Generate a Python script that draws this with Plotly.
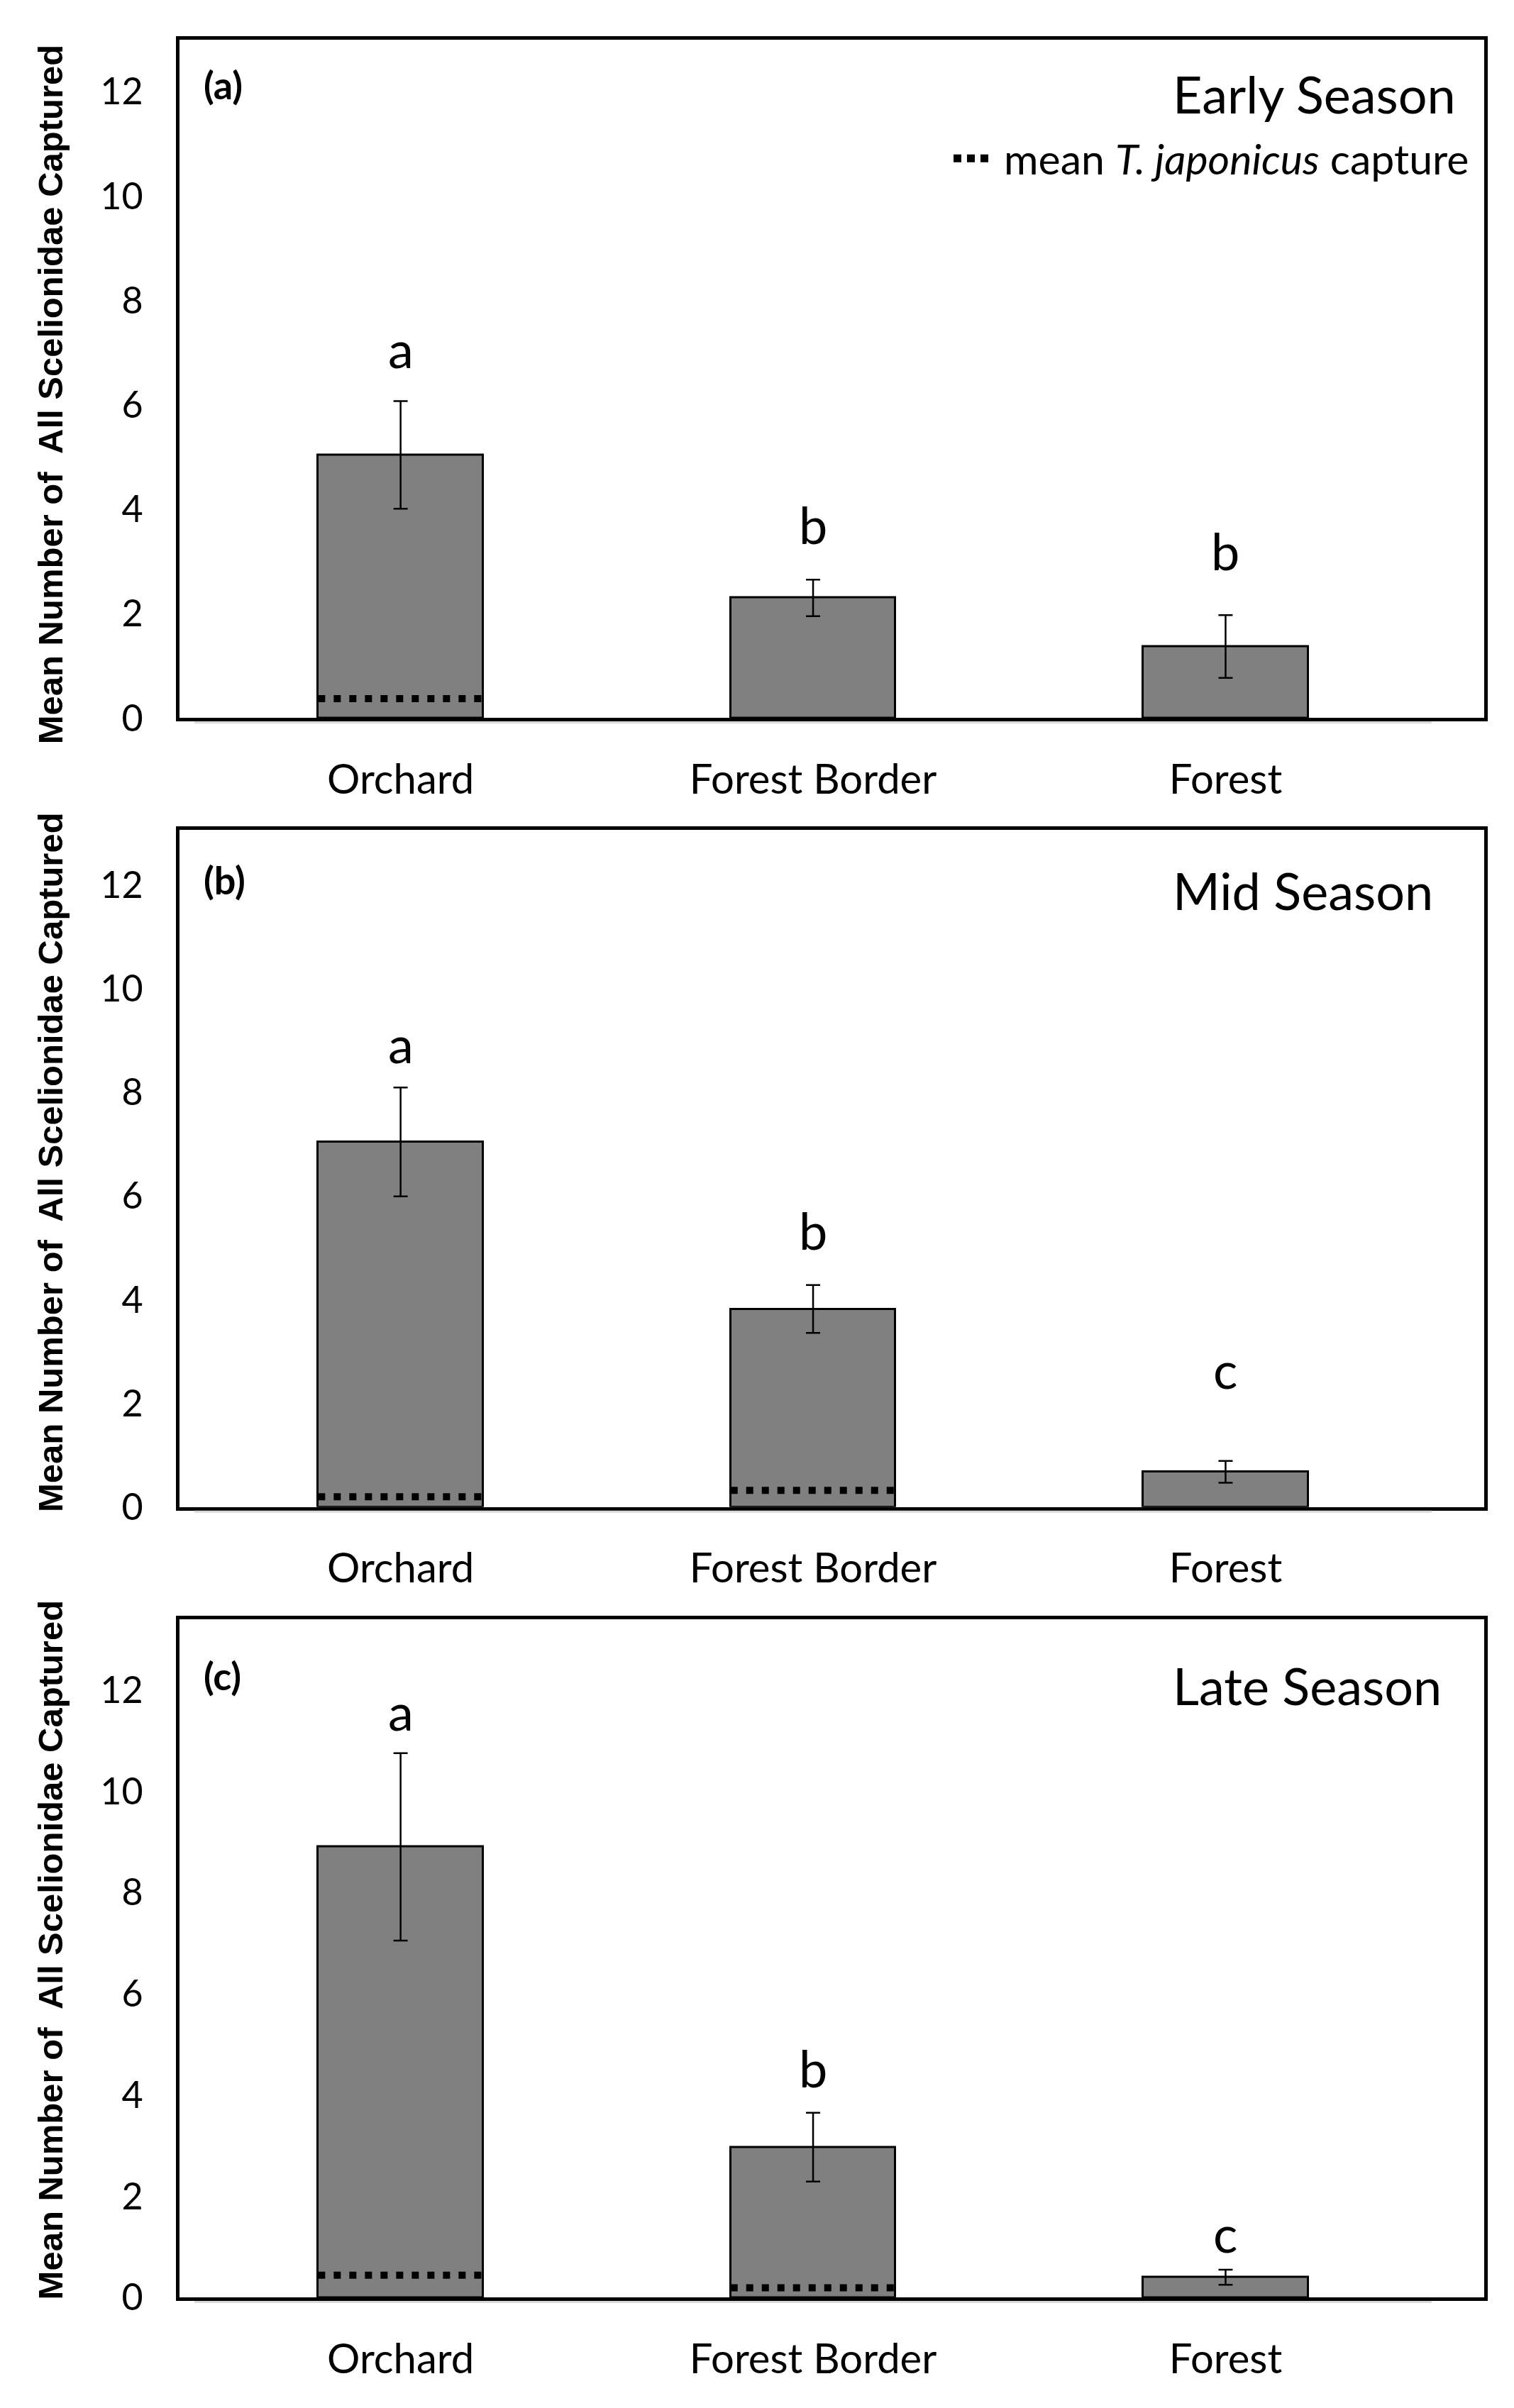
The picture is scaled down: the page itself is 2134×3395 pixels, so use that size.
import plotly.graph_objects as go

# ---------------- data ----------------
categories = ["Orchard", "Forest Border", "Forest"]
panel_tags = ["(a)", "(b)", "(c)"]
seasons = ["Early Season", "Mid Season", "Late Season"]

early_mean = [5.04, 2.30, 1.37]
early_se = [1.03, 0.35, 0.60]
early_tj = [0.37, None, None]
early_letters = ["a", "b", "b"]

mid_mean = [7.04, 3.82, 0.68]
mid_se = [1.05, 0.46, 0.21]
mid_tj = [0.20, 0.32, None]
mid_letters = ["a", "b", "c"]

late_mean = [8.90, 2.97, 0.40]
late_se = [1.85, 0.68, 0.15]
late_tj = [0.44, 0.19, None]
late_letters = ["a", "b", "c"]

y_ticks = [0, 2, 4, 6, 8, 10, 12]
y_title = "Mean Number of  All Scelionidae Captured"
legend_text = "mean <i>T. japonicus</i> capture"

# ---------------- layout settings ----------------
W, H = 2134, 3395
LEFT, RIGHT = 245, 2084
boxes = [(48, 1013), (1172, 2135), (2295, 3259)]      # plot-area top, bottom (px)
y_max = [13.0, 13.06, 13.39]
x_range = [-0.536, 2.627]
bar_w = 0.4
letter_shift = [[75, 78, 91], [62, 78, 130], [60, 64, 52]]   # px above error bar
title_center = [553, 1645, 2765]
tag_y = [112, 1243, 2375]
season_y = [125, 1258, 2388]
legend_y = 217

BODY = "Lato, 'Open Sans', sans-serif"
BOLD_ARIAL = "'Liberation Sans', Arial, sans-serif"

series = [
    (early_mean, early_se, early_tj, early_letters),
    (mid_mean, mid_se, mid_tj, mid_letters),
    (late_mean, late_se, late_tj, late_letters),
]

fig = go.Figure()
annotations = []
shapes = []
xs = list(range(len(categories)))

for p, (mean, se, tj, letters) in enumerate(series):
    sfx = "" if p == 0 else str(p + 1)
    xa, ya = "x" + sfx, "y" + sfx
    fig.add_trace(go.Bar(
        x=xs, y=mean, width=bar_w,
        marker=dict(color="#808080", line=dict(color="black", width=3)),
        error_y=dict(type="data", array=se, color="black", thickness=2.5, width=10),
        xaxis=xa, yaxis=ya, showlegend=False, hoverinfo="skip",
    ))
    lx, ly = [], []
    for i, v in enumerate(tj):
        if v is None:
            continue
        lx += [i - bar_w / 2, i + bar_w / 2, None]
        ly += [v, v, None]
    if lx:
        fig.add_trace(go.Scatter(
            x=lx, y=ly, mode="lines",
            line=dict(color="black", width=10, dash="10px,12px"),
            xaxis=xa, yaxis=ya, showlegend=False, hoverinfo="skip",
        ))

    top, bot = boxes[p]
    dom = [1 - bot / H, 1 - top / H]
    fig.layout["xaxis" + sfx] = dict(
        domain=[LEFT / W, RIGHT / W], range=x_range, anchor=ya,
        tickvals=xs, ticktext=categories, ticks="",
        showline=True, linewidth=5, linecolor="black", mirror=True,
        showgrid=False, zeroline=False, ticklabelstandoff=32,
        tickfont=dict(family=BODY, size=58, color="black"),
    )
    fig.layout["yaxis" + sfx] = dict(
        domain=dom, range=[0, y_max[p]], anchor=xa,
        tickvals=y_ticks, ticks="",
        showline=True, linewidth=5, linecolor="black", mirror=True,
        showgrid=False, zeroline=False, ticklabelstandoff=36,
        tickfont=dict(family=BODY, size=52, color="black"),
    )

    # significance letters
    for i, L in enumerate(letters):
        annotations.append(dict(
            x=i, y=mean[i] + se[i], xref=xa, yref=ya, text=L, showarrow=False,
            yanchor="middle", yshift=letter_shift[p][i],
            font=dict(family=BODY, size=72, color="black"),
        ))
    # panel tag
    annotations.append(dict(
        x=277 / W, y=1 - tag_y[p] / H, xref="paper", yref="paper", text="<b>" + panel_tags[p] + "</b>",
        showarrow=False, xanchor="left", yanchor="middle",
        font=dict(family=BODY, size=54, color="black"),
    ))
    # season title
    annotations.append(dict(
        x=1643 / W, y=1 - season_y[p] / H, xref="paper", yref="paper", text=seasons[p],
        showarrow=False, xanchor="left", yanchor="middle",
        font=dict(family=BODY, size=72, color="black"),
    ))
    # y title
    annotations.append(dict(
        x=63 / W, y=1 - title_center[p] / H, xref="paper", yref="paper", text="<b>" + y_title + "</b>",
        showarrow=False, xanchor="center", yanchor="middle", textangle=-90,
        font=dict(family=BOLD_ARIAL, size=49, color="black"),
    ))
    # light axis shadow just below the x axis line
    shapes.append(dict(
        type="line", xref=xa, yref="paper", x0=-0.5, x1=2.5,
        y0=1 - (bot + 6.5) / H, y1=1 - (bot + 6.5) / H,
        line=dict(color="#d9d9d9", width=3),
    ))

# legend (top panel)
shapes.append(dict(
    type="line", xref="paper", yref="paper", x0=1336 / W, x1=1386 / W,
    y0=1 - legend_y / H, y1=1 - legend_y / H, line=dict(color="black", width=11, dash="11px,8px"),
))
annotations.append(dict(
    x=1405 / W, y=1 - legend_y / H, xref="paper", yref="paper", text=legend_text,
    showarrow=False, xanchor="left", yanchor="middle",
    font=dict(family=BODY, size=59, color="black"),
))

fig.update_layout(
    width=W, height=H, margin=dict(l=0, r=0, t=0, b=0),
    paper_bgcolor="white", plot_bgcolor="white",
    annotations=annotations, shapes=shapes, showlegend=False,
    bargap=0,
)

fig.write_html("out.html")
